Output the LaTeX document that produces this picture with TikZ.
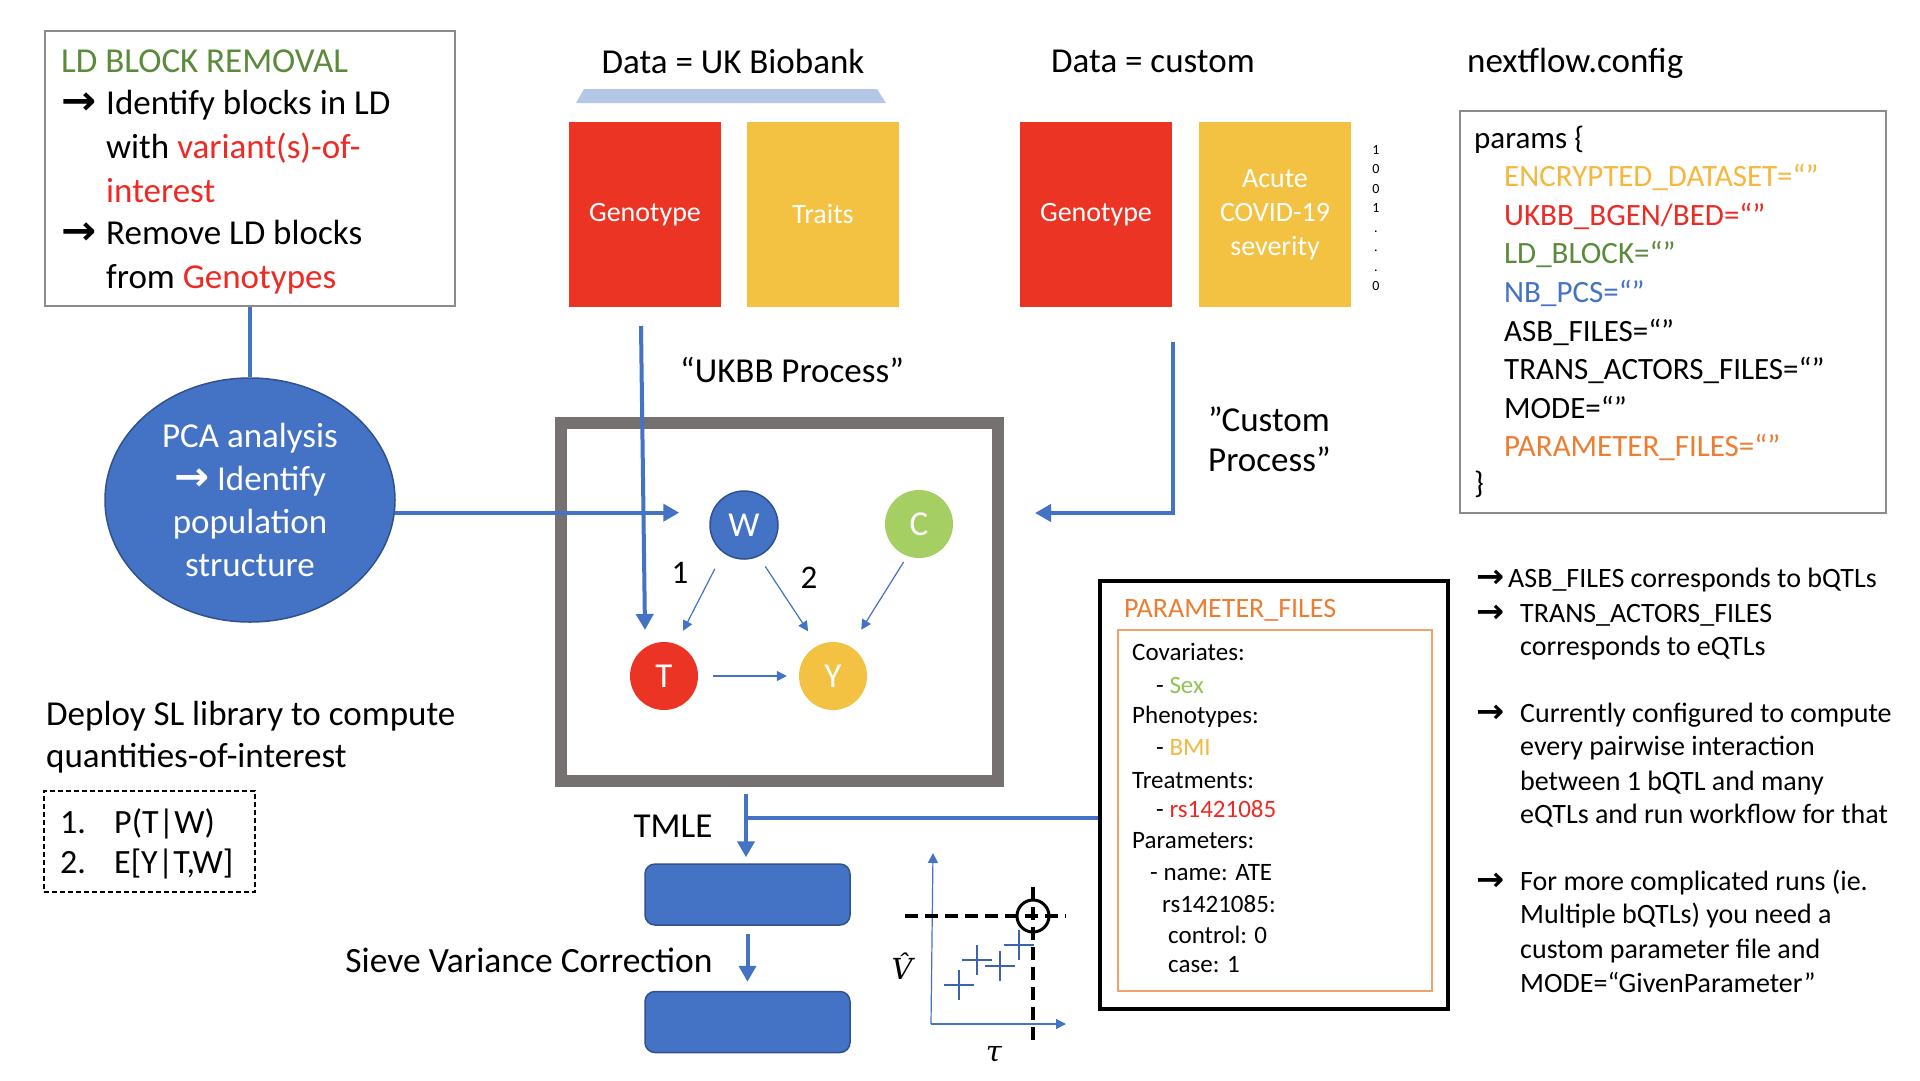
\documentclass[tikz,border=0pt]{standalone}
\usepackage{fix-cm}
\usepackage{fontspec}
\setmainfont{Carlito}
\newfontfamily\arrowfont{DejaVu Sans}
\newfontfamily\plotfont{DejaVu Serif}
\usetikzlibrary{arrows.meta,shapes.geometric,calc}
\definecolor{cred}{HTML}{EC3425}
\definecolor{cyellow}{HTML}{F4C242}
\definecolor{cblue}{HTML}{4472C4}
\definecolor{cdblue}{HTML}{2F528F}
\definecolor{cgreen}{HTML}{A5CE63}
\definecolor{sexgreen}{HTML}{92C353}
\definecolor{ldgreen}{HTML}{5B8A3B}
\definecolor{corange}{HTML}{ED7D31}
\definecolor{cinner}{HTML}{F0A26A}
\definecolor{cgray}{HTML}{767171}
\definecolor{cborder}{HTML}{8C8C8C}
\definecolor{clight}{HTML}{B4C7E7}
\definecolor{txtred}{HTML}{EE2A24}
\definecolor{txtyellow}{HTML}{F5B83E}
\definecolor{cplus}{HTML}{3C64AE}
\newcommand{\rarr}{\scalebox{1.2}[1.15]{\arrowfont\bfseries →}}
\tikzset{
  fbig/.style={font=\fontsize{35}{43}\selectfont},
  fpar/.style={font=\fontsize{31}{38}\selectfont},
  fmid/.style={font=\fontsize{28}{34}\selectfont},
  fsmall/.style={font=\fontsize{25}{31}\selectfont},
  lbl/.style={inner sep=0pt, anchor=base west},
  clbl/.style={inner sep=0pt, anchor=base},
  datablock/.style={minimum width=152pt, minimum height=185pt, inner sep=0pt, text=white, fmid, align=center},
  bluearrow/.style={draw=cblue, line width=4pt, -{Triangle[length=16pt,width=17pt]}},
  blueline/.style={draw=cblue, line width=4pt},
  thinarrow/.style={draw=cblue, line width=1.2pt, -{Triangle[length=10pt,width=10pt]}},
  dagnode/.style={circle, minimum size=68pt, inner sep=0pt, text=white, font=\fontsize{35}{35}\selectfont},
  bluebox/.style={fill=cblue, draw=cdblue, line width=1.5pt, rounded corners=10pt, minimum width=205pt, minimum height=61pt},
  blackdash/.style={draw=black, line width=3.5pt, dash pattern=on 13pt off 7pt},
  plusmark/.style={draw=cplus, line width=2pt},
  axislabel/.style={inner sep=0pt, font=\plotfont\itshape\fontsize{29}{29}\selectfont},
}
\begin{document}
\begin{tikzpicture}[x=1pt,y=-1pt]
\useasboundingbox[fill=white] (0,0) rectangle (1920,1080);

% ---------- LD block box ----------
\node[draw=cborder, line width=1.5pt, minimum width=410pt, minimum height=275pt] (ldbox) at (250,168.5) {};
\node[lbl, fbig, text=ldgreen] (ld1) at (61,72) {LD BLOCK REMOVAL};
\node[lbl, fbig] (ld2a) at (61,114) {\rarr};
\node[lbl, fbig] (ld2) at (106,114) {Identify blocks in LD};
\node[lbl, fbig] (ld3) at (106,158) {with \textcolor{txtred}{variant(s)-of-}};
\node[lbl, fbig, text=txtred] (ld4) at (106,202) {interest};
\node[lbl, fbig] (ld5a) at (61,244) {\rarr};
\node[lbl, fbig] (ld5) at (106,244) {Remove LD blocks};
\node[lbl, fbig] (ld6) at (106,288) {from \textcolor{txtred}{Genotypes}};

% ---------- PCA ellipse ----------
\node[ellipse, fill=cblue, draw=cdblue, line width=1.5pt, minimum width=290pt, minimum height=244pt,
      inner sep=0pt, text=white, align=center, fbig] (pca) at (250,500)
      {PCA analysis\\\rarr{} Identify\\population\\structure};
\draw[blueline] (ldbox.south) -- (pca.north);

% ---------- Data UK Biobank ----------
\node[clbl, fbig] (ukbtitle) at (733,73) {Data = UK Biobank};
\fill[clight] (584,89) -- (877,89) -- (886,103) -- (576,103) -- cycle;
\node[datablock, fill=cred] (geno1) at (645,214.5) {Genotype};
\node[datablock, fill=cyellow] (traits) at (823,214.5) {\raisebox{2pt}{Traits}};

% ---------- Data custom ----------
\node[clbl, fbig] (customtitle) at (1153,72) {Data = custom};
\node[datablock, fill=cred] (geno2) at (1096,214.5) {Genotype};
\node[datablock, fill=cyellow] (covid) at (1275,214.5) {Acute\\COVID-19\\severity};
\node[align=center, inner sep=0pt, font=\fontsize{14}{19.5}\selectfont] (digits) at (1376,218) {1\\0\\0\\1\\.\\.\\.\\0};

% ---------- nextflow.config ----------
\node[lbl, fbig] (nftitle) at (1467,72) {nextflow.config};
\node[draw=cborder, line width=1.5pt, minimum width=426pt, minimum height=402pt] (params) at (1673,312) {};
\node[lbl, fpar] (p0) at (1474,148) {params \{};
\node[lbl, fpar, text=txtyellow] (p1) at (1504,186.6) {ENCRYPTED\_DATASET=“”};
\node[lbl, fpar, text=txtred] (p2) at (1504,225.2) {UKBB\_BGEN/BED=“”};
\node[lbl, fpar, text=ldgreen] (p3) at (1504,263.8) {LD\_BLOCK=“”};
\node[lbl, fpar, text=cblue] (p4) at (1504,302.4) {NB\_PCS=“”};
\node[lbl, fpar] (p5) at (1504,341) {ASB\_FILES=“”};
\node[lbl, fpar] (p6) at (1504,379.6) {TRANS\_ACTORS\_FILES=“”};
\node[lbl, fpar] (p7) at (1504,418.2) {MODE=“”};
\node[lbl, fpar, text=corange] (p8) at (1504,456.8) {PARAMETER\_FILES=“”};
\node[lbl, fpar] (p9) at (1474,493) {\}};

% ---------- Process box and DAG ----------
\node[draw=cgray, line width=12pt, minimum width=437pt, minimum height=358pt] (proc) at (779.5,602) {};
\node[dagnode, fill=cblue, draw=cdblue, line width=1.5pt] (W) at (744,525) {W};
\node[dagnode, fill=cgreen] (C) at (919,524) {C};
\node[dagnode, fill=cred] (T) at (664,676) {T};
\node[dagnode, fill=cyellow] (Y) at (833,676) {Y};
\draw[thinarrow, shorten <=18pt, shorten >=15pt] (W.233) -- (T.69);
\draw[thinarrow, shorten <=12pt, shorten >=17pt] (W.295) -- (Y.117);
\draw[thinarrow, shorten <=7pt, shorten >=20pt] (C.250) -- (Y.59);
\draw[thinarrow, shorten <=15pt, shorten >=12pt] (T) -- (Y);
\node[font=\fontsize{33}{33}\selectfont, inner sep=0pt] (lab1) at (680,573) {1};
\node[font=\fontsize{33}{33}\selectfont, inner sep=0pt] (lab2) at (809,578) {2};

\node[clbl, fbig] (ukbblab) at (792,382) {“UKBB Process”};
\node[lbl, fbig] (custom1) at (1208,431) {”Custom};
\node[lbl, fbig] (custom2) at (1208,471) {Process”};

% connectors into the process box
\draw[bluearrow, shorten >=30pt] (pca.-5) -- (pca.-5 -| W.west);
\coordinate (ukA) at (641,326);
\coordinate (ukB) at (645,630);
\draw[bluearrow] (ukA) -- (ukB);
\coordinate (cuA) at (1173,342);
\coordinate (cuB) at (1035,513);
\draw[bluearrow] (cuA) |- (cuB);

% ---------- SL library ----------
\node[lbl, fbig] (sl1) at (46,725) {Deploy SL library to compute};
\node[lbl, fbig] (sl2) at (46,767) {quantities-of-interest};
\node[draw=black, line width=1.2pt, dash pattern=on 5pt off 3pt, minimum width=211pt, minimum height=101pt] (slbox) at (149.5,841.5) {};
\node[lbl, font=\fontsize{34}{40}\selectfont] (q1n) at (60,833) {1.};
\node[lbl, font=\fontsize{34}{40}\selectfont] (q1) at (114,833) {P(T|W)};
\node[lbl, font=\fontsize{34}{40}\selectfont] (q2n) at (60,873) {2.};
\node[lbl, font=\fontsize{34}{40}\selectfont] (q2) at (114,873) {E[Y|T,W]};

% ---------- TMLE chain ----------
\node[bluebox] (rect1) at (747.5,894.5) {};
\node[bluebox] (rect2) at (747.5,1022) {};
\node[clbl, fbig] (tmle) at (673,837) {TMLE};
\node[clbl, font=\fontsize{35.5}{43}\selectfont] (sieve) at (529,972) {Sieve Variance Correction};
\coordinate (tmA) at (746,794);
\draw[bluearrow, shorten >=6pt] (tmA) -- (tmA |- rect1.north);
\draw[bluearrow, shorten <=8pt, shorten >=9pt] (rect1.south) -- (rect2.north);

% ---------- PARAMETER_FILES box ----------
\node[draw=black, line width=3.5pt, minimum width=348pt, minimum height=428pt] (pfbox) at (1274,795) {};
\node[draw=cinner, line width=1.5pt, minimum width=314pt, minimum height=361pt] (pfinner) at (1275,810.5) {};
\node[lbl, fmid, text=corange] (pftitle) at (1124,617) {PARAMETER\_FILES};
\node[lbl, fsmall] (f1) at (1132,660) {Covariates:};
\node[lbl, fsmall] (f2) at (1156,693) {- \textcolor{sexgreen}{Sex}};
\node[lbl, fsmall] (f3) at (1132,723) {Phenotypes:};
\node[lbl, fsmall] (f4) at (1156,755) {- \textcolor{txtyellow}{BMI}};
\node[lbl, fsmall] (f5) at (1132,788) {Treatments:};
\node[lbl, fsmall] (f6) at (1156,817) {- \textcolor{txtred}{rs1421085}};
\node[lbl, fsmall] (f7) at (1132,848) {Parameters:};
\node[lbl, fsmall] (f8) at (1150,880) {- name: ATE};
\node[lbl, fsmall] (f9) at (1162,912) {rs1421085:};
\node[lbl, fsmall] (f10) at (1168,943) {control: 0};
\node[lbl, fsmall] (f11) at (1168,972) {case: 1};
\coordinate (tmJ) at (746,818);
\draw[blueline] (tmJ) -- (tmJ -| pfbox.west);

% ---------- plot ----------
\coordinate (org) at (931,1024);
\coordinate (yTop) at (933,853);
\coordinate (xEnd) at (1066,1024);
\draw[thinarrow] (org) -- (yTop);
\draw[thinarrow] (org) -- (xEnd);
\draw[plusmark] (944,985) -- (974,985) (959,970) -- (959,1000);
\draw[plusmark] (962,960) -- (992,960) (977,945) -- (977,975);
\draw[plusmark] (985,966) -- (1015,966) (1000,951) -- (1000,981);
\draw[plusmark] (1004,945) -- (1034,945) (1019,930) -- (1019,960);
\coordinate (hA) at (905,916);
\coordinate (hB) at (1066,916);
\coordinate (vA) at (1033,887);
\coordinate (vB) at (1033,1047);
\draw[blackdash] (hA) -- (hB);
\draw[blackdash] (vA) -- (vB);
\node[circle, draw=black, line width=3pt, minimum size=32pt, inner sep=0pt] (opt) at (1033,916) {};
\node[axislabel] (vhat) at (902,966) {V̂};
\node[axislabel] (tau) at (994,1054) {τ};

% ---------- notes ----------
\node[lbl, fmid] (n1a) at (1476,587) {\rarr};
\node[lbl, fmid] (n1) at (1508,587) {ASB\_FILES corresponds to bQTLs};
\node[lbl, fmid] (n2a) at (1476,622) {\rarr};
\node[lbl, fmid] (n2) at (1520,622) {TRANS\_ACTORS\_FILES};
\node[lbl, fmid] (n3) at (1520,655) {corresponds to eQTLs};
\node[lbl, fmid] (n4a) at (1476,722) {\rarr};
\node[lbl, fmid] (n4) at (1520,722) {Currently configured to compute};
\node[lbl, fmid] (n5) at (1520,755) {every pairwise interaction};
\node[lbl, fmid] (n6) at (1520,790) {between 1 bQTL and many};
\node[lbl, fmid] (n7) at (1520,823) {eQTLs and run workflow for that};
\node[lbl, fmid] (n8a) at (1476,890) {\rarr};
\node[lbl, fmid] (n8) at (1520,890) {For more complicated runs (ie.};
\node[lbl, fmid] (n9) at (1520,923) {Multiple bQTLs) you need a};
\node[lbl, fmid] (n10) at (1520,958) {custom parameter file and};
\node[lbl, fmid] (n11) at (1520,992) {MODE=“GivenParameter”};
\end{tikzpicture}
\end{document}
